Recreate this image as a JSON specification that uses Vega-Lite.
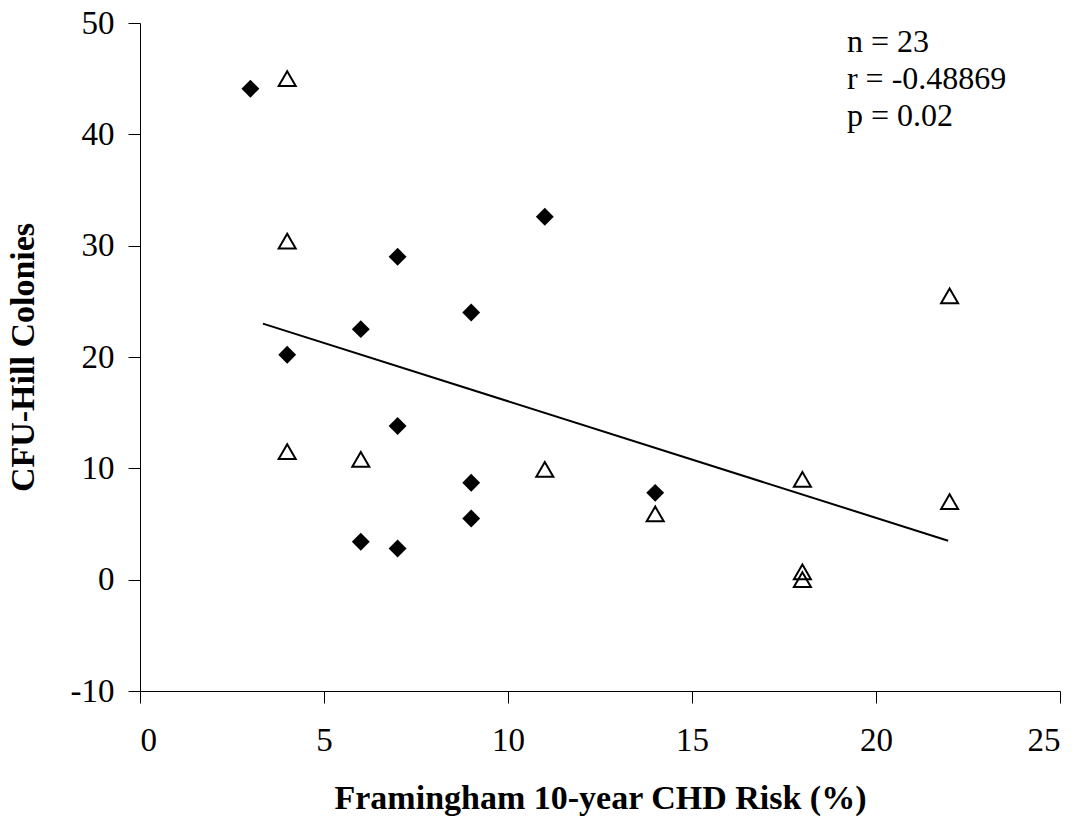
{
  "$schema": "https://vega.github.io/schema/vega-lite/v6.json",
  "width": 920,
  "height": 668,
  "autosize": {"type": "none"},
  "padding": {"left": 140, "top": 23, "right": 26, "bottom": 129},
  "background": "white",
  "config": {
    "view": {"stroke": null},
    "font": "Liberation Serif",
    "axis": {
      "grid": false,
      "domainColor": "black",
      "domainWidth": 1,
      "tickColor": "black",
      "tickWidth": 1,
      "tickSize": 12,
      "labelColor": "black",
      "labelFont": "Liberation Serif",
      "labelFontSize": 33,
      "titleColor": "black",
      "titleFont": "Liberation Serif",
      "titleFontSize": 34,
      "titleFontWeight": "bold"
    }
  },
  "datasets": {
    "points": [
      {"risk": 3, "cfu": 44.1, "group": "A"},
      {"risk": 4, "cfu": 20.2, "group": "A"},
      {"risk": 6, "cfu": 22.5, "group": "A"},
      {"risk": 6, "cfu": 3.4, "group": "A"},
      {"risk": 7, "cfu": 29.0, "group": "A"},
      {"risk": 7, "cfu": 13.8, "group": "A"},
      {"risk": 7, "cfu": 2.8, "group": "A"},
      {"risk": 9, "cfu": 24.0, "group": "A"},
      {"risk": 9, "cfu": 8.7, "group": "A"},
      {"risk": 9, "cfu": 5.5, "group": "A"},
      {"risk": 11, "cfu": 32.6, "group": "A"},
      {"risk": 14, "cfu": 7.8, "group": "A"},
      {"risk": 4, "cfu": 45.0, "group": "B"},
      {"risk": 4, "cfu": 30.4, "group": "B"},
      {"risk": 4, "cfu": 11.5, "group": "B"},
      {"risk": 6, "cfu": 10.8, "group": "B"},
      {"risk": 11, "cfu": 9.9, "group": "B"},
      {"risk": 14, "cfu": 5.9, "group": "B"},
      {"risk": 18, "cfu": 9.0, "group": "B"},
      {"risk": 18, "cfu": 0.7, "group": "B"},
      {"risk": 18, "cfu": 0.0, "group": "B"},
      {"risk": 22, "cfu": 25.5, "group": "B"},
      {"risk": 22, "cfu": 7.0, "group": "B"}
    ],
    "trend": [
      {"risk": 3.34, "cfu": 23.0},
      {"risk": 21.96, "cfu": 3.5}
    ]
  },
  "layer": [
    {
      "data": {"name": "points"},
      "transform": [{"filter": "datum.group === 'A'"}],
      "mark": {"type": "point", "shape": "diamond", "filled": true, "color": "black", "size": 320, "opacity": 1},
      "encoding": {
        "x": {"field": "risk", "type": "quantitative", "scale": {"domain": [0, 25], "nice": false, "zero": false},
          "axis": {"values": [0, 5, 10, 15, 20, 25], "labelExpr": "'' + datum.value", "title": "Framingham 10-year CHD Risk (%)", "labelPadding": 21, "titlePadding": 24}},
        "y": {"field": "cfu", "type": "quantitative", "scale": {"domain": [-10, 50], "nice": false, "zero": false},
          "axis": {"values": [-10, 0, 10, 20, 30, 40, 50], "labelExpr": "'' + datum.value", "title": "CFU-Hill Colonies", "labelPadding": 14, "titlePadding": 30}}
      }
    },
    {
      "data": {"name": "points"},
      "transform": [{"filter": "datum.group === 'B'"}],
      "mark": {"type": "point", "shape": "triangle-up", "filled": false, "color": "black", "strokeWidth": 2, "size": 290, "opacity": 1},
      "encoding": {
        "x": {"field": "risk", "type": "quantitative"},
        "y": {"field": "cfu", "type": "quantitative"}
      }
    },
    {
      "data": {"name": "trend"},
      "mark": {"type": "line", "color": "black", "strokeWidth": 2},
      "encoding": {
        "x": {"field": "risk", "type": "quantitative"},
        "y": {"field": "cfu", "type": "quantitative"}
      }
    },
    {
      "data": {"values": [{}]},
      "mark": {"type": "text", "align": "left", "baseline": "alphabetic", "font": "Liberation Serif", "fontSize": 32, "lineHeight": 37, "color": "black"},
      "encoding": {
        "x": {"datum": 19.21},
        "y": {"datum": 47.43},
        "text": {"value": ["n = 23", "r = -0.48869", "p = 0.02"]}
      }
    }
  ]
}
